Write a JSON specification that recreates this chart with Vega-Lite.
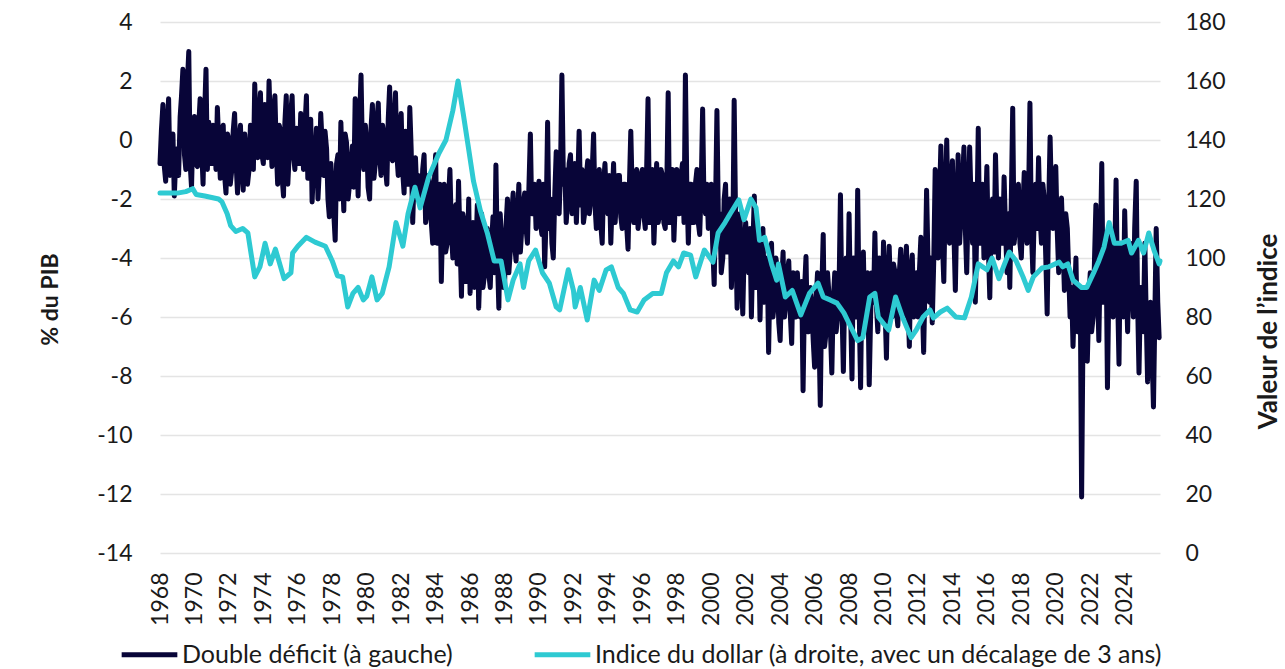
{
  "$schema": "https://vega.github.io/schema/vega-lite/v6.json",
  "width": 1000,
  "height": 531,
  "autosize": {"type": "none"},
  "padding": {"left": 160, "top": 22, "right": 125, "bottom": 116},
  "background": "white",
  "config": {
    "font": "Lato",
    "view": {"stroke": null},
    "axis": {"labelFont": "Lato", "titleFont": "Lato", "labelFontSize": 23, "titleFontSize": 23, "labelColor": "#1a1a1a", "titleColor": "#1a1a1a", "titleFontWeight": "bold"},
    "legend": {"labelFont": "Lato", "labelFontSize": 25, "labelColor": "#1a1a1a", "labelLimit": 0}
  },
  "datasets": {
    "deficit": [
      {"t":1968.0,"v":-0.8},{"t":1968.17,"v":1.2},{"t":1968.33,"v":-1.4},{"t":1968.5,"v":1.4},{"t":1968.67,"v":-0.5},{"t":1968.83,"v":-1.9},
      {"t":1969.0,"v":-0.3},{"t":1969.17,"v":0.8},{"t":1969.33,"v":2.4},{"t":1969.5,"v":-1.0},{"t":1969.67,"v":3.0},{"t":1969.83,"v":-1.6},
      {"t":1970.0,"v":0.8},{"t":1970.17,"v":-0.9},{"t":1970.33,"v":1.4},{"t":1970.5,"v":-1.5},{"t":1970.67,"v":2.4},{"t":1970.83,"v":0.6},
      {"t":1971.0,"v":-0.8},{"t":1971.17,"v":0.2},{"t":1971.33,"v":1.1},{"t":1971.5,"v":-1.3},{"t":1971.67,"v":0.5},{"t":1971.83,"v":-1.8},
      {"t":1972.0,"v":0.0},{"t":1972.17,"v":-1.0},{"t":1972.33,"v":0.9},{"t":1972.5,"v":-1.8},{"t":1972.67,"v":0.5},{"t":1972.83,"v":-1.7},
      {"t":1973.0,"v":-0.5},{"t":1973.17,"v":-1.0},{"t":1973.33,"v":0.3},{"t":1973.5,"v":1.9},{"t":1973.67,"v":-0.6},{"t":1973.83,"v":1.6},
      {"t":1974.0,"v":-0.8},{"t":1974.17,"v":0.5},{"t":1974.33,"v":2.0},{"t":1974.5,"v":-0.9},{"t":1974.67,"v":1.5},{"t":1974.83,"v":-1.5},
      {"t":1975.0,"v":0.3},{"t":1975.17,"v":-1.9},{"t":1975.33,"v":1.5},{"t":1975.5,"v":-0.5},{"t":1975.67,"v":1.5},{"t":1975.83,"v":-1.0},
      {"t":1976.0,"v":0.0},{"t":1976.17,"v":0.9},{"t":1976.33,"v":-1.0},{"t":1976.5,"v":1.5},{"t":1976.67,"v":-0.2},{"t":1976.83,"v":-2.1},
      {"t":1977.0,"v":-0.5},{"t":1977.17,"v":-2.0},{"t":1977.33,"v":0.9},{"t":1977.5,"v":-1.2},{"t":1977.67,"v":-0.3},{"t":1977.83,"v":-2.6},
      {"t":1978.0,"v":-1.5},{"t":1978.17,"v":-3.4},{"t":1978.33,"v":-0.5},{"t":1978.5,"v":0.6},{"t":1978.67,"v":-2.4},{"t":1978.83,"v":-0.1},
      {"t":1979.0,"v":-1.5},{"t":1979.17,"v":-0.2},{"t":1979.33,"v":1.4},{"t":1979.5,"v":-1.9},{"t":1979.67,"v":2.2},{"t":1979.83,"v":-1.0},
      {"t":1980.0,"v":-0.1},{"t":1980.17,"v":-2.0},{"t":1980.33,"v":1.2},{"t":1980.5,"v":-0.8},{"t":1980.67,"v":1.25},{"t":1980.83,"v":-1.2},
      {"t":1981.0,"v":0.2},{"t":1981.17,"v":-1.5},{"t":1981.33,"v":1.8},{"t":1981.5,"v":-0.7},{"t":1981.67,"v":1.6},{"t":1981.83,"v":-1.2},
      {"t":1982.0,"v":0.9},{"t":1982.17,"v":-1.8},{"t":1982.33,"v":-0.6},{"t":1982.5,"v":1.1},{"t":1982.67,"v":-2.8},{"t":1982.83,"v":-0.6},
      {"t":1983.0,"v":-1.2},{"t":1983.17,"v":-2.2},{"t":1983.33,"v":-0.5},{"t":1983.5,"v":-2.5},{"t":1983.67,"v":-1.5},{"t":1983.83,"v":-3.5},
      {"t":1984.0,"v":-0.5},{"t":1984.17,"v":-2.8},{"t":1984.33,"v":-4.8},{"t":1984.5,"v":-1.5},{"t":1984.67,"v":-3.5},{"t":1984.83,"v":-1.0},
      {"t":1985.0,"v":-4.0},{"t":1985.17,"v":-2.2},{"t":1985.33,"v":-1.4},{"t":1985.5,"v":-5.3},{"t":1985.67,"v":-2.8},{"t":1985.83,"v":-4.5},
      {"t":1986.0,"v":-5.2},{"t":1986.17,"v":-2.8},{"t":1986.33,"v":-4.0},{"t":1986.5,"v":-5.7},{"t":1986.67,"v":-2.5},{"t":1986.83,"v":-4.6},
      {"t":1987.0,"v":-3.0},{"t":1987.17,"v":-5.0},{"t":1987.33,"v":-2.6},{"t":1987.5,"v":-0.85},{"t":1987.67,"v":-5.7},{"t":1987.83,"v":-3.5},
      {"t":1988.0,"v":-5.0},{"t":1988.17,"v":-2.0},{"t":1988.33,"v":-3.8},{"t":1988.5,"v":-1.8},{"t":1988.67,"v":-4.1},{"t":1988.83,"v":-1.5},
      {"t":1989.0,"v":-3.0},{"t":1989.17,"v":-1.8},{"t":1989.33,"v":-3.5},{"t":1989.5,"v":0.2},{"t":1989.67,"v":-2.5},{"t":1989.83,"v":-3.0},
      {"t":1990.0,"v":-1.4},{"t":1990.17,"v":-3.2},{"t":1990.33,"v":-4.3},{"t":1990.5,"v":0.6},{"t":1990.67,"v":-2.0},{"t":1990.83,"v":-4.0},
      {"t":1991.0,"v":-0.4},{"t":1991.17,"v":-2.5},{"t":1991.33,"v":2.2},{"t":1991.5,"v":-1.0},{"t":1991.67,"v":-2.0},{"t":1991.83,"v":-0.5},
      {"t":1992.0,"v":-1.5},{"t":1992.17,"v":-2.8},{"t":1992.33,"v":0.3},{"t":1992.5,"v":-1.0},{"t":1992.67,"v":-2.4},{"t":1992.83,"v":-0.7},
      {"t":1993.0,"v":-2.0},{"t":1993.17,"v":0.2},{"t":1993.33,"v":-3.0},{"t":1993.5,"v":-1.0},{"t":1993.67,"v":-3.5},{"t":1993.83,"v":-0.8},
      {"t":1994.0,"v":-2.5},{"t":1994.17,"v":-3.5},{"t":1994.33,"v":-0.8},{"t":1994.5,"v":-2.0},{"t":1994.67,"v":-1.2},{"t":1994.83,"v":-3.0},
      {"t":1995.0,"v":-1.5},{"t":1995.17,"v":-3.7},{"t":1995.33,"v":0.3},{"t":1995.5,"v":-2.8},{"t":1995.67,"v":-1.0},{"t":1995.83,"v":-2.5},
      {"t":1996.0,"v":-1.0},{"t":1996.17,"v":-3.0},{"t":1996.33,"v":1.4},{"t":1996.5,"v":-2.0},{"t":1996.67,"v":-3.5},{"t":1996.83,"v":-0.8},
      {"t":1997.0,"v":-2.5},{"t":1997.17,"v":-1.2},{"t":1997.33,"v":-3.0},{"t":1997.5,"v":1.6},{"t":1997.67,"v":-2.0},{"t":1997.83,"v":-3.4},
      {"t":1998.0,"v":-1.0},{"t":1998.17,"v":-2.5},{"t":1998.33,"v":-0.8},{"t":1998.5,"v":2.2},{"t":1998.67,"v":-3.5},{"t":1998.83,"v":-1.5},
      {"t":1999.0,"v":-2.8},{"t":1999.17,"v":-1.0},{"t":1999.33,"v":-3.2},{"t":1999.5,"v":1.05},{"t":1999.67,"v":-2.5},{"t":1999.83,"v":-3.0},
      {"t":2000.0,"v":-1.5},{"t":2000.17,"v":-4.9},{"t":2000.33,"v":1.0},{"t":2000.5,"v":-2.5},{"t":2000.67,"v":-4.0},{"t":2000.83,"v":-1.5},
      {"t":2001.0,"v":-3.5},{"t":2001.17,"v":-5.0},{"t":2001.33,"v":1.35},{"t":2001.5,"v":-5.7},{"t":2001.67,"v":-2.5},{"t":2001.83,"v":-5.9},
      {"t":2002.0,"v":-2.8},{"t":2002.17,"v":-4.5},{"t":2002.33,"v":-6.0},{"t":2002.5,"v":-1.9},{"t":2002.67,"v":-4.5},{"t":2002.83,"v":-6.1},
      {"t":2003.0,"v":-3.0},{"t":2003.17,"v":-5.0},{"t":2003.33,"v":-7.2},{"t":2003.5,"v":-3.5},{"t":2003.67,"v":-5.5},{"t":2003.83,"v":-4.3},
      {"t":2004.0,"v":-6.8},{"t":2004.17,"v":-3.8},{"t":2004.33,"v":-5.5},{"t":2004.5,"v":-4.1},{"t":2004.67,"v":-6.9},{"t":2004.83,"v":-5.0},
      {"t":2005.0,"v":-4.5},{"t":2005.17,"v":-6.0},{"t":2005.33,"v":-8.5},{"t":2005.5,"v":-3.95},{"t":2005.67,"v":-6.5},{"t":2005.83,"v":-5.5},
      {"t":2006.0,"v":-7.7},{"t":2006.17,"v":-4.5},{"t":2006.33,"v":-9.0},{"t":2006.5,"v":-3.2},{"t":2006.67,"v":-6.5},{"t":2006.83,"v":-5.2},
      {"t":2007.0,"v":-7.9},{"t":2007.17,"v":-4.5},{"t":2007.33,"v":-6.0},{"t":2007.5,"v":-1.86},{"t":2007.67,"v":-7.85},{"t":2007.83,"v":-4.0},
      {"t":2008.0,"v":-2.5},{"t":2008.17,"v":-8.1},{"t":2008.33,"v":-5.0},{"t":2008.5,"v":-1.7},{"t":2008.67,"v":-8.4},{"t":2008.83,"v":-3.8},
      {"t":2009.0,"v":-6.0},{"t":2009.17,"v":-8.3},{"t":2009.33,"v":-4.5},{"t":2009.5,"v":-3.15},{"t":2009.67,"v":-6.5},{"t":2009.83,"v":-5.0},
      {"t":2010.0,"v":-3.46},{"t":2010.17,"v":-7.4},{"t":2010.33,"v":-3.6},{"t":2010.5,"v":-6.0},{"t":2010.67,"v":-4.5},{"t":2010.83,"v":-6.3},
      {"t":2011.0,"v":-3.7},{"t":2011.17,"v":-6.0},{"t":2011.33,"v":-3.6},{"t":2011.5,"v":-7.0},{"t":2011.67,"v":-3.9},{"t":2011.83,"v":-5.5},
      {"t":2012.0,"v":-6.0},{"t":2012.17,"v":-3.3},{"t":2012.33,"v":-7.2},{"t":2012.5,"v":-1.7},{"t":2012.67,"v":-5.5},{"t":2012.83,"v":-6.2},
      {"t":2013.0,"v":-1.0},{"t":2013.17,"v":-4.0},{"t":2013.33,"v":-0.2},{"t":2013.5,"v":-4.8},{"t":2013.67,"v":0.0},{"t":2013.83,"v":-3.5},
      {"t":2014.0,"v":-0.7},{"t":2014.17,"v":-5.1},{"t":2014.33,"v":-0.5},{"t":2014.5,"v":-2.5},{"t":2014.67,"v":-0.24},{"t":2014.83,"v":-4.5},
      {"t":2015.0,"v":-0.24},{"t":2015.17,"v":-3.5},{"t":2015.33,"v":-5.5},{"t":2015.5,"v":0.4},{"t":2015.67,"v":-2.5},{"t":2015.83,"v":-4.0},
      {"t":2016.0,"v":-0.9},{"t":2016.17,"v":-5.35},{"t":2016.33,"v":-2.0},{"t":2016.5,"v":-0.5},{"t":2016.67,"v":-4.0},{"t":2016.83,"v":-2.5},
      {"t":2017.0,"v":-1.25},{"t":2017.17,"v":-4.5},{"t":2017.33,"v":-5.0},{"t":2017.5,"v":1.08},{"t":2017.67,"v":-3.0},{"t":2017.83,"v":-1.5},
      {"t":2018.0,"v":-4.0},{"t":2018.17,"v":-1.1},{"t":2018.33,"v":-3.5},{"t":2018.5,"v":1.25},{"t":2018.67,"v":-4.5},{"t":2018.83,"v":-1.5},
      {"t":2019.0,"v":-0.6},{"t":2019.17,"v":-3.5},{"t":2019.33,"v":-2.0},{"t":2019.5,"v":-5.9},{"t":2019.67,"v":0.1},{"t":2019.83,"v":-3.0},
      {"t":2020.0,"v":-0.9},{"t":2020.17,"v":-4.5},{"t":2020.33,"v":-1.97},{"t":2020.5,"v":-5.1},{"t":2020.67,"v":-3.0},{"t":2020.83,"v":-6.0},
      {"t":2021.0,"v":-7.0},{"t":2021.17,"v":-4.0},{"t":2021.33,"v":-6.0},{"t":2021.5,"v":-12.1},{"t":2021.67,"v":-5.0},{"t":2021.83,"v":-7.5},
      {"t":2022.0,"v":-4.5},{"t":2022.17,"v":-6.0},{"t":2022.33,"v":-2.2},{"t":2022.5,"v":-6.8},{"t":2022.67,"v":-0.8},{"t":2022.83,"v":-5.0},
      {"t":2023.0,"v":-8.4},{"t":2023.17,"v":-3.0},{"t":2023.33,"v":-6.0},{"t":2023.5,"v":-1.36},{"t":2023.67,"v":-7.6},{"t":2023.83,"v":-4.0},
      {"t":2024.0,"v":-2.4},{"t":2024.17,"v":-6.5},{"t":2024.33,"v":-3.5},{"t":2024.5,"v":-6.0},{"t":2024.67,"v":-1.4},{"t":2024.83,"v":-7.9},
      {"t":2025.0,"v":-5.0},{"t":2025.17,"v":-3.5},{"t":2025.33,"v":-8.2},{"t":2025.5,"v":-5.5},{"t":2025.67,"v":-9.05},{"t":2025.83,"v":-3.0},
      {"t":2026.0,"v":-6.7},
      {"t":1968.08,"v":0.3},{"t":1968.25,"v":-0.9},{"t":1968.42,"v":0.5},{"t":1968.58,"v":-1.2},{"t":1968.75,"v":0.2},{"t":1968.92,"v":-0.6},
      {"t":1969.08,"v":-1.2},{"t":1969.25,"v":1.5},{"t":1969.42,"v":-0.5},{"t":1969.58,"v":1.8},{"t":1969.75,"v":-0.8},{"t":1969.92,"v":0.5},
      {"t":1970.08,"v":-0.8},{"t":1970.25,"v":0.5},{"t":1970.42,"v":-0.3},{"t":1970.58,"v":0.7},{"t":1970.75,"v":-1.0},{"t":1970.92,"v":-0.3},
      {"t":1971.08,"v":0.5},{"t":1971.25,"v":-1.0},{"t":1971.42,"v":-0.2},{"t":1971.58,"v":0.3},{"t":1971.75,"v":-1.2},{"t":1971.92,"v":0.2},
      {"t":1972.08,"v":-1.5},{"t":1972.25,"v":0.3},{"t":1972.42,"v":-0.8},{"t":1972.58,"v":0.0},{"t":1972.75,"v":-1.0},{"t":1972.92,"v":0.2},
      {"t":1973.08,"v":-1.5},{"t":1973.25,"v":0.5},{"t":1973.42,"v":-1.0},{"t":1973.58,"v":0.2},{"t":1973.75,"v":0.8},{"t":1973.92,"v":-0.5},
      {"t":1974.08,"v":1.2},{"t":1974.25,"v":-0.6},{"t":1974.42,"v":0.2},{"t":1974.58,"v":0.9},{"t":1974.75,"v":-0.3},{"t":1974.92,"v":0.5},
      {"t":1975.08,"v":-1.2},{"t":1975.25,"v":0.6},{"t":1975.42,"v":-1.5},{"t":1975.58,"v":0.8},{"t":1975.75,"v":-0.5},{"t":1975.92,"v":0.4},
      {"t":1976.08,"v":-0.8},{"t":1976.25,"v":0.2},{"t":1976.42,"v":0.5},{"t":1976.58,"v":-1.3},{"t":1976.75,"v":0.7},{"t":1976.92,"v":-0.8},
      {"t":1977.08,"v":0.4},{"t":1977.25,"v":-1.0},{"t":1977.42,"v":-0.2},{"t":1977.58,"v":0.3},{"t":1977.75,"v":-2.0},{"t":1977.92,"v":-0.8},
      {"t":1978.08,"v":-2.4},{"t":1978.25,"v":-0.8},{"t":1978.42,"v":-2.0},{"t":1978.58,"v":-1.0},{"t":1978.75,"v":0.2},{"t":1978.92,"v":-2.0},
      {"t":1979.08,"v":-0.8},{"t":1979.25,"v":-1.6},{"t":1979.42,"v":0.3},{"t":1979.58,"v":0.6},{"t":1979.75,"v":-0.4},{"t":1979.92,"v":0.5},
      {"t":1980.08,"v":-1.6},{"t":1980.25,"v":0.4},{"t":1980.42,"v":-1.3},{"t":1980.58,"v":0.6},{"t":1980.75,"v":-0.5},{"t":1980.92,"v":0.5},
      {"t":1981.08,"v":-0.9},{"t":1981.25,"v":0.7},{"t":1981.42,"v":-0.6},{"t":1981.58,"v":0.4},{"t":1981.75,"v":-0.5},{"t":1981.92,"v":0.3},
      {"t":1982.08,"v":-1.0},{"t":1982.25,"v":0.3},{"t":1982.42,"v":-1.5},{"t":1982.58,"v":-0.3},{"t":1982.75,"v":-1.2},{"t":1982.92,"v":-2.0},
      {"t":1983.08,"v":-2.0},{"t":1983.25,"v":-1.0},{"t":1983.42,"v":-2.8},{"t":1983.58,"v":-1.2},{"t":1983.75,"v":-2.8},{"t":1983.92,"v":-1.5},
      {"t":1984.08,"v":-3.5},{"t":1984.25,"v":-1.5},{"t":1984.42,"v":-2.5},{"t":1984.58,"v":-3.8},{"t":1984.75,"v":-2.0},{"t":1984.92,"v":-3.2},
      {"t":1985.08,"v":-2.5},{"t":1985.25,"v":-4.2},{"t":1985.42,"v":-3.5},{"t":1985.58,"v":-2.5},{"t":1985.75,"v":-4.8},{"t":1985.92,"v":-2.0},
      {"t":1986.08,"v":-3.5},{"t":1986.25,"v":-5.0},{"t":1986.42,"v":-2.2},{"t":1986.58,"v":-4.2},{"t":1986.75,"v":-5.0},{"t":1986.92,"v":-3.0},
      {"t":1987.08,"v":-4.5},{"t":1987.25,"v":-3.5},{"t":1987.42,"v":-4.5},{"t":1987.58,"v":-3.8},{"t":1987.75,"v":-2.5},{"t":1987.92,"v":-5.0},
      {"t":1988.08,"v":-3.0},{"t":1988.25,"v":-4.5},{"t":1988.42,"v":-2.5},{"t":1988.58,"v":-3.5},{"t":1988.75,"v":-2.8},{"t":1988.92,"v":-3.8},
      {"t":1989.08,"v":-2.2},{"t":1989.25,"v":-3.0},{"t":1989.42,"v":-1.5},{"t":1989.58,"v":-2.5},{"t":1989.75,"v":-1.5},{"t":1989.92,"v":-2.0},
      {"t":1990.08,"v":-2.8},{"t":1990.25,"v":-1.5},{"t":1990.42,"v":-2.5},{"t":1990.58,"v":-3.0},{"t":1990.75,"v":-3.5},{"t":1990.92,"v":-1.8},
      {"t":1991.08,"v":-2.2},{"t":1991.25,"v":-1.0},{"t":1991.42,"v":-1.5},{"t":1991.58,"v":-2.8},{"t":1991.75,"v":-0.8},{"t":1991.92,"v":-2.5},
      {"t":1992.08,"v":-0.8},{"t":1992.25,"v":-1.5},{"t":1992.42,"v":-2.2},{"t":1992.58,"v":-2.8},{"t":1992.75,"v":-1.2},{"t":1992.92,"v":-2.5},
      {"t":1993.08,"v":-1.2},{"t":1993.25,"v":-2.2},{"t":1993.42,"v":-1.5},{"t":1993.58,"v":-2.8},{"t":1993.75,"v":-1.5},{"t":1993.92,"v":-2.2},
      {"t":1994.08,"v":-1.2},{"t":1994.25,"v":-2.0},{"t":1994.42,"v":-2.8},{"t":1994.58,"v":-1.2},{"t":1994.75,"v":-2.6},{"t":1994.92,"v":-1.5},
      {"t":1995.08,"v":-2.8},{"t":1995.25,"v":-1.5},{"t":1995.42,"v":-2.0},{"t":1995.58,"v":-1.5},{"t":1995.75,"v":-3.0},{"t":1995.92,"v":-1.2},
      {"t":1996.08,"v":-2.5},{"t":1996.25,"v":-1.0},{"t":1996.42,"v":-2.8},{"t":1996.58,"v":-1.0},{"t":1996.75,"v":-2.2},{"t":1996.92,"v":-2.8},
      {"t":1997.08,"v":-1.0},{"t":1997.25,"v":-2.8},{"t":1997.42,"v":-1.5},{"t":1997.58,"v":-2.8},{"t":1997.75,"v":-1.0},{"t":1997.92,"v":-2.0},
      {"t":1998.08,"v":-2.5},{"t":1998.25,"v":-1.2},{"t":1998.42,"v":-2.8},{"t":1998.58,"v":-1.5},{"t":1998.75,"v":-1.5},{"t":1998.92,"v":-2.8},
      {"t":1999.08,"v":-1.5},{"t":1999.25,"v":-2.8},{"t":1999.42,"v":-1.5},{"t":1999.58,"v":-2.2},{"t":1999.75,"v":-1.5},{"t":1999.92,"v":-1.8},
      {"t":2000.08,"v":-3.5},{"t":2000.25,"v":-2.2},{"t":2000.42,"v":-3.0},{"t":2000.58,"v":-4.5},{"t":2000.75,"v":-2.0},{"t":2000.92,"v":-3.8},
      {"t":2001.08,"v":-2.0},{"t":2001.25,"v":-3.5},{"t":2001.42,"v":-3.0},{"t":2001.58,"v":-3.5},{"t":2001.75,"v":-4.5},{"t":2001.92,"v":-3.5},
      {"t":2002.08,"v":-4.0},{"t":2002.25,"v":-3.0},{"t":2002.42,"v":-3.5},{"t":2002.58,"v":-5.0},{"t":2002.75,"v":-3.2},{"t":2002.92,"v":-4.0},
      {"t":2003.08,"v":-5.5},{"t":2003.25,"v":-4.0},{"t":2003.42,"v":-4.2},{"t":2003.58,"v":-6.0},{"t":2003.75,"v":-4.0},{"t":2003.92,"v":-6.2},
      {"t":2004.08,"v":-5.0},{"t":2004.25,"v":-6.0},{"t":2004.42,"v":-4.5},{"t":2004.58,"v":-5.8},{"t":2004.75,"v":-4.5},{"t":2004.92,"v":-6.0},
      {"t":2005.08,"v":-5.5},{"t":2005.25,"v":-4.8},{"t":2005.42,"v":-5.0},{"t":2005.58,"v":-6.5},{"t":2005.75,"v":-5.0},{"t":2005.92,"v":-6.8},
      {"t":2006.08,"v":-5.5},{"t":2006.25,"v":-6.5},{"t":2006.42,"v":-5.0},{"t":2006.58,"v":-7.0},{"t":2006.75,"v":-4.5},{"t":2006.92,"v":-6.5},
      {"t":2007.08,"v":-5.5},{"t":2007.25,"v":-6.5},{"t":2007.42,"v":-5.0},{"t":2007.58,"v":-5.5},{"t":2007.75,"v":-5.0},{"t":2007.92,"v":-6.0},
      {"t":2008.08,"v":-5.5},{"t":2008.25,"v":-4.0},{"t":2008.42,"v":-6.0},{"t":2008.58,"v":-5.5},{"t":2008.75,"v":-4.5},{"t":2008.92,"v":-6.5},
      {"t":2009.08,"v":-4.5},{"t":2009.25,"v":-6.0},{"t":2009.42,"v":-5.5},{"t":2009.58,"v":-5.5},{"t":2009.75,"v":-4.0},{"t":2009.92,"v":-6.0},
      {"t":2010.08,"v":-5.5},{"t":2010.25,"v":-4.8},{"t":2010.42,"v":-5.5},{"t":2010.58,"v":-4.2},{"t":2010.75,"v":-5.8},{"t":2010.92,"v":-4.5},
      {"t":2011.08,"v":-5.2},{"t":2011.25,"v":-4.5},{"t":2011.42,"v":-5.5},{"t":2011.58,"v":-4.5},{"t":2011.75,"v":-6.0},{"t":2011.92,"v":-4.5},
      {"t":2012.08,"v":-4.5},{"t":2012.25,"v":-5.5},{"t":2012.42,"v":-4.5},{"t":2012.58,"v":-4.0},{"t":2012.75,"v":-4.0},{"t":2012.92,"v":-4.0},
      {"t":2013.08,"v":-3.0},{"t":2013.25,"v":-2.0},{"t":2013.42,"v":-3.5},{"t":2013.58,"v":-2.0},{"t":2013.75,"v":-2.5},{"t":2013.92,"v":-1.5},
      {"t":2014.08,"v":-3.0},{"t":2014.25,"v":-2.5},{"t":2014.42,"v":-3.5},{"t":2014.58,"v":-1.5},{"t":2014.75,"v":-3.0},{"t":2014.92,"v":-2.0},
      {"t":2015.08,"v":-2.0},{"t":2015.25,"v":-1.5},{"t":2015.42,"v":-2.8},{"t":2015.58,"v":-3.5},{"t":2015.75,"v":-1.5},{"t":2015.92,"v":-2.5},
      {"t":2016.08,"v":-3.5},{"t":2016.25,"v":-2.5},{"t":2016.42,"v":-3.8},{"t":2016.58,"v":-2.5},{"t":2016.75,"v":-2.0},{"t":2016.92,"v":-3.5},
      {"t":2017.08,"v":-3.0},{"t":2017.25,"v":-2.5},{"t":2017.42,"v":-2.0},{"t":2017.58,"v":-3.5},{"t":2017.75,"v":-2.0},{"t":2017.92,"v":-3.5},
      {"t":2018.08,"v":-2.5},{"t":2018.25,"v":-3.0},{"t":2018.42,"v":-2.0},{"t":2018.58,"v":-3.0},{"t":2018.75,"v":-2.5},{"t":2018.92,"v":-3.0},
      {"t":2019.08,"v":-2.5},{"t":2019.25,"v":-1.5},{"t":2019.42,"v":-4.0},{"t":2019.58,"v":-2.5},{"t":2019.75,"v":-2.0},{"t":2019.92,"v":-2.0},
      {"t":2020.08,"v":-3.0},{"t":2020.25,"v":-2.5},{"t":2020.42,"v":-3.5},{"t":2020.58,"v":-2.5},{"t":2020.75,"v":-4.5},{"t":2020.92,"v":-5.0},
      {"t":2021.08,"v":-5.5},{"t":2021.25,"v":-6.5},{"t":2021.42,"v":-5.0},{"t":2021.58,"v":-6.5},{"t":2021.75,"v":-6.5},{"t":2021.92,"v":-5.5},
      {"t":2022.08,"v":-6.5},{"t":2022.25,"v":-4.0},{"t":2022.42,"v":-5.0},{"t":2022.58,"v":-4.0},{"t":2022.75,"v":-5.5},{"t":2022.92,"v":-3.5},
      {"t":2023.08,"v":-5.0},{"t":2023.25,"v":-5.5},{"t":2023.42,"v":-4.0},{"t":2023.58,"v":-5.0},{"t":2023.75,"v":-3.5},{"t":2023.92,"v":-6.0},
      {"t":2024.08,"v":-4.5},{"t":2024.25,"v":-4.0},{"t":2024.42,"v":-5.0},{"t":2024.58,"v":-3.0},{"t":2024.75,"v":-5.5},{"t":2024.92,"v":-5.0},
      {"t":2025.08,"v":-6.5},{"t":2025.25,"v":-6.0},{"t":2025.42,"v":-6.0},{"t":2025.58,"v":-7.0},{"t":2025.75,"v":-6.0},{"t":2025.92,"v":-5.5}
    ],
    "dollar": [
      {"t":1968.0,"v":122},{"t":1968.5,"v":122},{"t":1969.0,"v":122},{"t":1969.5,"v":122.5},{"t":1969.9,"v":123.5},{"t":1970.1,"v":121.5},
      {"t":1970.6,"v":121},{"t":1971.0,"v":120.5},{"t":1971.4,"v":120},{"t":1971.6,"v":119},{"t":1971.9,"v":115},{"t":1972.1,"v":111},
      {"t":1972.4,"v":109},{"t":1972.8,"v":110},{"t":1973.1,"v":108.5},{"t":1973.3,"v":101},{"t":1973.5,"v":93.6},{"t":1973.8,"v":97},
      {"t":1974.1,"v":105},{"t":1974.4,"v":98},{"t":1974.7,"v":103},{"t":1975.0,"v":97},{"t":1975.2,"v":93},{"t":1975.6,"v":95},
      {"t":1975.7,"v":101.7},{"t":1976.0,"v":104},{"t":1976.5,"v":107},{"t":1977.0,"v":105.4},{"t":1977.6,"v":104},{"t":1978.0,"v":99},
      {"t":1978.3,"v":94},{"t":1978.6,"v":93.6},{"t":1978.9,"v":83.4},{"t":1979.2,"v":88},{"t":1979.5,"v":90},{"t":1979.8,"v":85.8},
      {"t":1980.0,"v":87},{"t":1980.3,"v":93.6},{"t":1980.6,"v":85.8},{"t":1980.9,"v":88},{"t":1981.3,"v":97},{"t":1981.7,"v":112},
      {"t":1982.1,"v":104},{"t":1982.4,"v":115},{"t":1982.8,"v":124},{"t":1983.1,"v":117},{"t":1983.6,"v":127.5},{"t":1984.2,"v":135.6},
      {"t":1984.6,"v":140},{"t":1985.0,"v":150},{"t":1985.3,"v":160},{"t":1985.6,"v":149},{"t":1985.9,"v":137.6},{"t":1986.2,"v":126},
      {"t":1986.6,"v":116},{"t":1987.0,"v":108.5},{"t":1987.4,"v":99},{"t":1987.8,"v":99},{"t":1988.2,"v":85.8},{"t":1988.5,"v":92.5},
      {"t":1988.9,"v":98},{"t":1989.1,"v":90},{"t":1989.4,"v":99},{"t":1989.8,"v":102.7},{"t":1990.2,"v":95},{"t":1990.6,"v":91.5},
      {"t":1991.0,"v":83.4},{"t":1991.2,"v":82.4},{"t":1991.7,"v":96},{"t":1992.0,"v":89},{"t":1992.1,"v":83.4},{"t":1992.4,"v":90},
      {"t":1992.8,"v":79},{"t":1993.2,"v":92.5},{"t":1993.5,"v":89},{"t":1993.9,"v":96},{"t":1994.2,"v":97},{"t":1994.6,"v":90},
      {"t":1994.9,"v":88},{"t":1995.3,"v":82.4},{"t":1995.7,"v":81.7},{"t":1996.1,"v":85.8},{"t":1996.6,"v":88},{"t":1997.1,"v":88},
      {"t":1997.4,"v":95},{"t":1997.8,"v":99},{"t":1998.1,"v":97},{"t":1998.4,"v":101.7},{"t":1998.8,"v":101},{"t":1999.1,"v":93.6},
      {"t":1999.6,"v":102.7},{"t":2000.1,"v":98.6},{"t":2000.4,"v":108.5},{"t":2000.8,"v":112},{"t":2001.1,"v":115},{"t":2001.6,"v":119.7},
      {"t":2001.9,"v":113},{"t":2002.3,"v":120},{"t":2002.6,"v":117},{"t":2002.8,"v":106},{"t":2003.1,"v":107},{"t":2003.5,"v":98},
      {"t":2003.8,"v":92.5},{"t":2003.9,"v":98},{"t":2004.3,"v":86.8},{"t":2004.7,"v":89},{"t":2005.2,"v":80.7},{"t":2005.7,"v":88},
      {"t":2006.2,"v":91.5},{"t":2006.5,"v":86.8},{"t":2006.9,"v":85.8},{"t":2007.3,"v":84.7},{"t":2007.7,"v":81.4},{"t":2008.1,"v":76.6},
      {"t":2008.5,"v":72},{"t":2008.8,"v":73},{"t":2009.2,"v":86.8},{"t":2009.5,"v":88},{"t":2009.7,"v":80},{"t":2010.3,"v":75.6},
      {"t":2010.7,"v":86.8},{"t":2011.1,"v":80},{"t":2011.6,"v":73},{"t":2011.9,"v":75.6},{"t":2012.3,"v":80},{"t":2012.7,"v":82.4},
      {"t":2012.9,"v":79.7},{"t":2013.3,"v":81.7},{"t":2013.7,"v":83},{"t":2014.2,"v":80},{"t":2014.7,"v":79.7},{"t":2015.1,"v":86.8},
      {"t":2015.5,"v":98},{"t":2016.0,"v":96},{"t":2016.3,"v":100},{"t":2016.7,"v":93},{"t":2017.0,"v":97.6},{"t":2017.3,"v":102},
      {"t":2017.7,"v":99},{"t":2018.1,"v":93.6},{"t":2018.4,"v":89},{"t":2018.7,"v":93.6},{"t":2019.2,"v":96.6},{"t":2019.6,"v":97},
      {"t":2020.2,"v":98.6},{"t":2020.4,"v":97},{"t":2020.7,"v":98},{"t":2021.0,"v":92.5},{"t":2021.5,"v":90},{"t":2021.8,"v":90},
      {"t":2022.2,"v":95},{"t":2022.5,"v":99},{"t":2022.8,"v":103.7},{"t":2023.1,"v":112},{"t":2023.4,"v":105},{"t":2023.8,"v":105},
      {"t":2024.2,"v":106},{"t":2024.4,"v":101.7},{"t":2024.8,"v":106},{"t":2025.1,"v":101.7},{"t":2025.4,"v":108.5},{"t":2025.7,"v":102.7},
      {"t":2026.0,"v":98},{"t":2026.05,"v":99}
    ]
  },
  "encoding": {
    "x": {
      "field": "t", "type": "quantitative",
      "scale": {"domain": [1968, 2026.05], "nice": false, "zero": false},
      "axis": {"title": null, "values": [1968,1970,1972,1974,1976,1978,1980,1982,1984,1986,1988,1990,1992,1994,1996,1998,2000,2002,2004,2006,2008,2010,2012,2014,2016,2018,2020,2022,2024], "format": "d", "labelAngle": -90, "labelPadding": 19, "grid": false, "domain": false, "ticks": false, "labelOverlap": false}
    }
  },
  "layer": [
    {
      "data": {"name": "deficit"},
      "mark": {"type": "line", "strokeWidth": 5, "strokeJoin": "round", "strokeCap": "round"},
      "encoding": {
        "y": {
          "field": "v", "type": "quantitative",
          "scale": {"domain": [-14, 4], "nice": false},
          "axis": {"title": "% du PIB", "orient": "left", "values": [-14,-12,-10,-8,-6,-4,-2,0,2,4], "labelExpr": "replace(datum.label, '−', '-')", "grid": true, "gridColor": "#e4e4e4", "gridWidth": 1.5, "domain": false, "ticks": false, "labelPadding": 28, "titlePadding": 34, "titleY": 277}
        },
        "color": {
          "datum": "Double déficit (à gauche)",
          "scale": {"domain": ["Double déficit (à gauche)", "Indice du dollar (à droite, avec un décalage de 3 ans)"], "range": ["#080538", "#2ecad2"]},
          "legend": {"title": null, "orient": "none", "legendX": -41, "legendY": 602, "direction": "horizontal", "symbolType": "stroke", "symbolSize": 3100, "symbolStrokeWidth": 5, "labelOffset": 2, "columnPadding": 71, "labelLimit": 0}
        }
      }
    },
    {
      "data": {"name": "dollar"},
      "mark": {"type": "line", "strokeWidth": 5, "strokeJoin": "round", "strokeCap": "round"},
      "encoding": {
        "y": {
          "field": "v", "type": "quantitative",
          "scale": {"domain": [0, 180], "nice": false},
          "axis": {"title": "Valeur de l’indice", "orient": "right", "values": [0,20,40,60,80,100,120,140,160,180], "grid": false, "domain": false, "ticks": false, "labelPadding": 25, "titlePadding": 30, "titleAngle": -90, "titleBaseline": "top", "titleFontSize": 26, "titleY": 309}
        },
        "color": {"datum": "Indice du dollar (à droite, avec un décalage de 3 ans)"}
      }
    }
  ],
  "resolve": {"scale": {"y": "independent"}}
}
